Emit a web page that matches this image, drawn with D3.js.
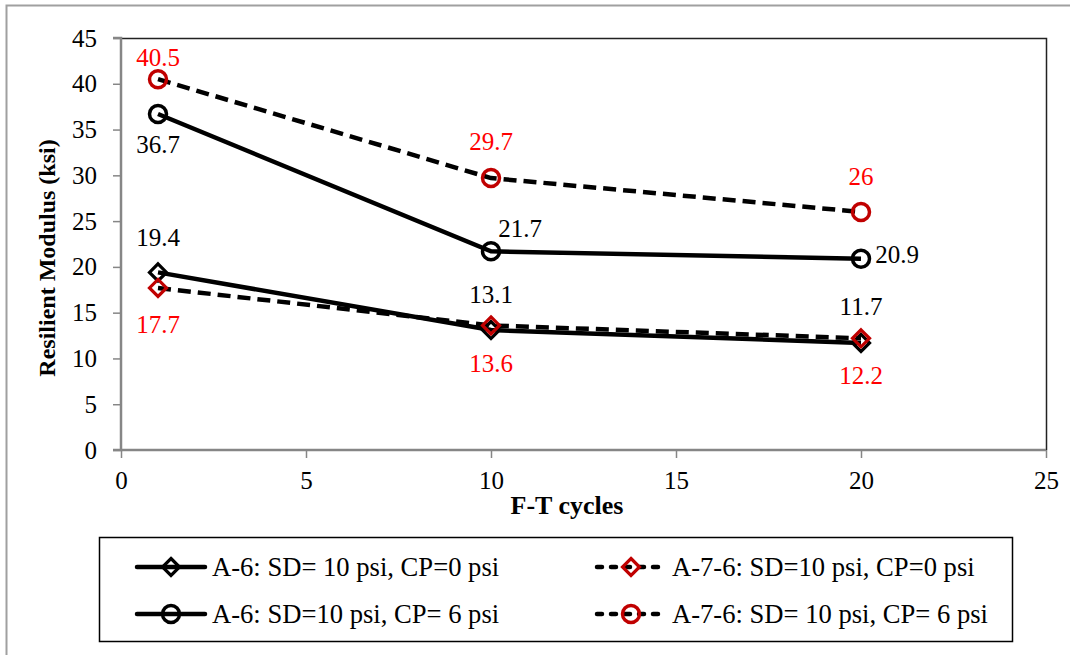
<!DOCTYPE html>
<html><head><meta charset="utf-8">
<script src="https://cdn.jsdelivr.net/npm/d3@7"></script>
<style>body{margin:0;background:#fff}svg{display:block}</style>
</head><body><svg id="c" width="1070" height="655" font-family="'Liberation Serif', 'Times New Roman', serif"></svg>
<script>
const FONT = "'Liberation Serif', 'Times New Roman', serif";
const cycles = [1, 10, 20];
const a6cp0 = [19.4, 13.1, 11.7];
const a76cp0 = [17.7, 13.6, 12.2];
const a6cp6 = [36.7, 21.7, 20.9];
const a76cp6 = [40.5, 29.7, 26];
const xTicks = [0, 5, 10, 15, 20, 25];
const yTicks = [0, 5, 10, 15, 20, 25, 30, 35, 40, 45];
const seriesNames = ["A-6: SD= 10 psi, CP=0 psi", "A-7-6: SD=10 psi, CP=0 psi", "A-6: SD=10 psi, CP= 6 psi", "A-7-6: SD= 10 psi, CP= 6 psi"];

const series = [
  {name: seriesNames[0], values: a6cp0, dash: null, marker: "diamond", mcol: "#000", lcol: "#000", labcol: "#000", lab: [[0,-35],[0,-36],[0,-36]]},
  {name: seriesNames[1], values: a76cp0, dash: "13,7", marker: "diamond", mcol: "#c00000", lcol: "#000", labcol: "#ff0000", lab: [[0,37],[0,38],[0,37]]},
  {name: seriesNames[2], values: a6cp6, dash: null, marker: "circle", mcol: "#000", lcol: "#000", labcol: "#000", lab: [[0,31],[29,-23],[36,-4]]},
  {name: seriesNames[3], values: a76cp6, dash: "13,7", marker: "circle", mcol: "#c00000", lcol: "#000", labcol: "#ff0000", lab: [[0,-22],[0,-37],[0,-35]]}
];

const svg = d3.select("#c");
svg.append("rect").attr("x", 6.5).attr("y", 5.5).attr("width", 1080).attr("height", 680)
  .attr("fill", "none").attr("stroke", "#a0a0a0").attr("stroke-width", 2);

const L = 121, R = 1046, T = 38, B = 450;
const x = d3.scaleLinear().domain([0, 25]).range([L, R]);
const y = d3.scaleLinear().domain([0, 45]).range([B, T]);

svg.append("path").attr("d", `M${L},${T+0.5}H${R+0.5}V${B}`).attr("fill","none").attr("stroke","#222").attr("stroke-width",1.5);

const yAxis = svg.append("g").attr("transform", `translate(${L},0)`)
  .call(d3.axisLeft(y).tickValues(yTicks).tickSize(8).tickPadding(16));
const xAxis = svg.append("g").attr("transform", `translate(0,${B})`)
  .call(d3.axisBottom(x).tickValues(xTicks).tickSize(8).tickPadding(13));
[yAxis, xAxis].forEach(g => {
  g.attr("font-family", FONT).attr("font-size", 25);
  g.select(".domain").attr("stroke", "#868686").attr("stroke-width", 2.5);
  g.selectAll(".tick line").attr("stroke", "#868686").attr("stroke-width", 1.5);
  g.selectAll(".tick text").attr("fill", "#000");
});
yAxis.select(".domain").attr("d", `M-8,${T}H0V${B}H-8`);
xAxis.select(".domain").attr("d", `M${L},0H${R}`);

svg.append("text").attr("transform", `translate(55,${(T+B)/2+14}) rotate(-90)`).attr("text-anchor","middle")
  .attr("font-weight","bold").attr("font-size",24).attr("font-family", FONT).text("Resilient Modulus (ksi)");
svg.append("text").attr("x", 567).attr("y", 514).attr("text-anchor","middle")
  .attr("font-weight","bold").attr("font-size",26).attr("font-family", FONT).text("F-T cycles");

function drawMarker(g, type, cx, cy, col) {
  if (type === "diamond") {
    g.append("path").attr("d", `M${cx},${cy-8.5}L${cx+8.5},${cy}L${cx},${cy+8.5}L${cx-8.5},${cy}Z`)
      .attr("fill","none").attr("stroke",col).attr("stroke-width",3.2);
  } else {
    g.append("circle").attr("cx",cx).attr("cy",cy).attr("r",8.5)
      .attr("fill","none").attr("stroke",col).attr("stroke-width",3.5);
  }
}

const line = d3.line().x((d,i) => x(cycles[i])).y(d => y(d));
series.forEach(s => {
  const g = svg.append("g");
  g.append("path").attr("d", line(s.values)).attr("fill","none").attr("stroke", s.lcol)
    .attr("stroke-width", 4.5).attr("stroke-dasharray", s.dash);
  s.values.forEach((v,i) => drawMarker(g, s.marker, x(cycles[i]), y(v), s.mcol));
});
series.forEach(s => {
  s.values.forEach((v,i) => {
    svg.append("text").attr("x", x(cycles[i]) + s.lab[i][0]).attr("y", y(v) + s.lab[i][1])
      .attr("text-anchor","middle").attr("dominant-baseline","central").attr("font-size",25)
      .attr("font-family", FONT).attr("fill", s.labcol).text(v);
  });
});

svg.append("rect").attr("x", 99.5).attr("y", 537.5).attr("width", 913).attr("height", 104)
  .attr("fill","#fff").attr("stroke","#000").attr("stroke-width",1.5);
const legPos = [[137, 567], [597, 567], [137, 614], [597, 614]];
series.forEach((s, k) => {
  const [lx, ly] = legPos[k];
  const g = svg.append("g");
  g.append("line").attr("x1", lx).attr("x2", lx + 68).attr("y1", ly).attr("y2", ly)
    .attr("stroke", s.lcol).attr("stroke-width", 4.5).attr("stroke-linecap", "round")
    .attr("stroke-dasharray", s.dash ? "5,9" : null);
  drawMarker(g, s.marker, lx + 34, ly, s.mcol);
  g.append("text").attr("x", lx + 75).attr("y", ly).attr("dominant-baseline","central")
    .attr("font-size", 26.6).attr("font-family", FONT).text(s.name);
});
</script></body></html>
